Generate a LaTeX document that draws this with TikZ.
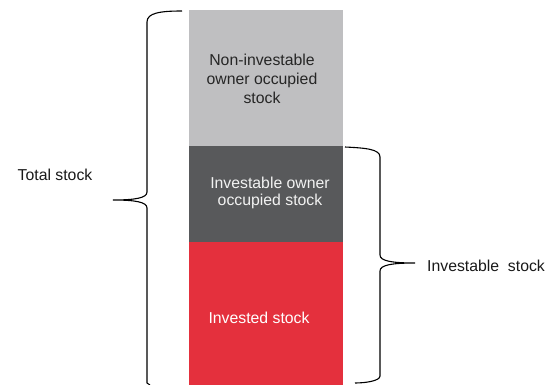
\documentclass[tikz,border=0pt]{standalone}
\usepackage{fontspec}
\setmainfont{Liberation Sans}
\definecolor{lgray}{HTML}{BFBFC1}
\definecolor{dgray}{HTML}{58595B}
\definecolor{sred}{HTML}{E4303D}
\definecolor{txtlight}{HTML}{F2F2F2}
\begin{document}
\begin{tikzpicture}[x=1pt,y=-1pt,
  block/.style={inner sep=0pt, minimum width=154pt, draw=none},
  lbl/.style={font=\fontsize{15.8}{19}\selectfont, align=center, inner sep=0pt},
  brace/.style={draw=black, line width=1.1pt}]
\useasboundingbox (0,0) rectangle (551,385);
% bar segments
\node[block, fill=lgray, minimum height=136pt, anchor=north west] (ni) at (189,10) {};
\node[block, fill=dgray, minimum height=96pt, anchor=north west] (io) at (189,146) {};
\node[block, fill=sred, minimum height=143pt, anchor=north west] (iv) at (189,242) {};
% texts in bar
\node[lbl, text=black!85] (tni) at (262,79) {Non-investable\\owner occupied\\stock};
\node[lbl, text=txtlight, font=\fontsize{15.8}{17.5}\selectfont] (tio) at (270,193) {Investable owner\\occupied stock};
\node[lbl, text=white] (tiv) at (259,318) {Invested stock};
% side labels
\node[lbl, text=black!90] (ttot) at (55,175) {Total stock};
\node[lbl, text=black!90, anchor=west] (tinv) at (427,266) {Investable\ \ stock};
% left brace
\coordinate (lt) at (182,11);
\coordinate (lm) at (113,200);
\coordinate (lb) at (150,385);
\draw[brace] (lt) .. controls (160,11) and (147,13) .. (147,22)
  -- (147,192) .. controls (147,198) and (135,200) .. (lm)
  .. controls (135,200) and (147,202) .. (147,208)
  -- (147,383) -- (lb);
% right brace
\coordinate (rt) at (345,147);
\coordinate (rm) at (415,263);
\coordinate (rb) at (355,383);
\draw[brace] (rt) .. controls (365,148) and (380,149) .. (380,157)
  -- (380,255) .. controls (380,261) and (392,263) .. (rm)
  .. controls (392,263) and (380,265) .. (380,271)
  -- (380,376) .. controls (380,381) and (365,383) .. (rb);
\end{tikzpicture}
\end{document}
